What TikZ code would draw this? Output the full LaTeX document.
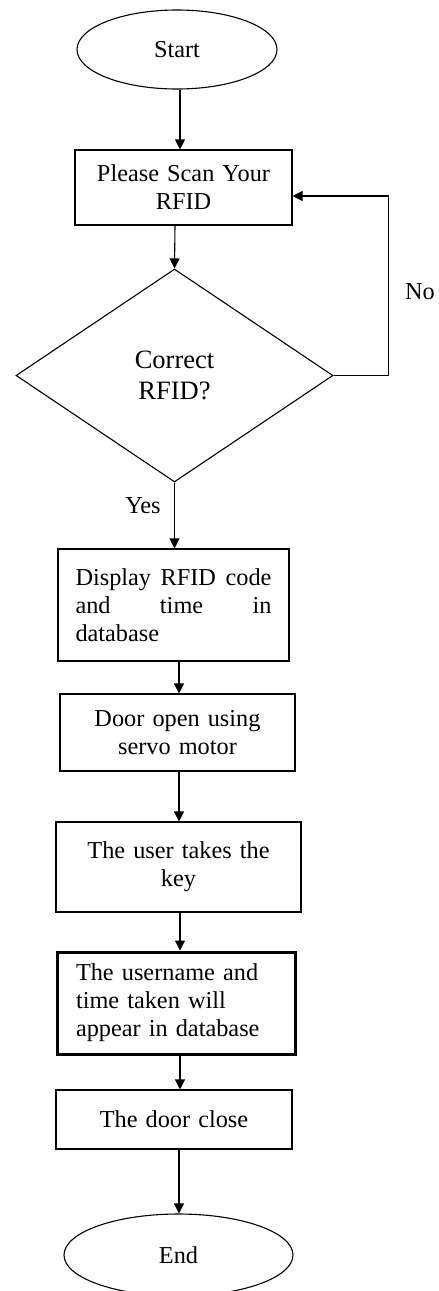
\documentclass[tikz,border=0pt]{standalone}
\usepackage{fontspec}
\setmainfont{Liberation Serif}
\usetikzlibrary{shapes.geometric,arrows.meta}
\begin{document}
\begin{tikzpicture}[x=1pt,y=-1pt,
  every node/.style={font=\fontsize{24.3}{28}\selectfont, inner sep=0pt},
  box/.style={draw, line width=1.1pt, align=center},
  arr/.style={line width=1.1pt, -{Triangle[length=10pt,width=10pt]}},
  term/.style={draw, ellipse, line width=1.1pt}]
\useasboundingbox (0,0) rectangle (439,1291);
\node[term, minimum width=200pt, minimum height=79pt] (start) at (177,49.5) {Start};
\node[box, minimum width=217pt, minimum height=75pt, text width=200pt] (b1) at (183.5,187.5) {Please Scan Your\\RFID};
\node[draw, diamond, line width=1.1pt, minimum width=317pt, minimum height=213pt, align=center, font=\fontsize{26.5}{31}\selectfont] (dia) at (174.5,375.5) {Correct\\RFID?};
\node[box, minimum width=231pt, minimum height=112pt, text width=196pt, align=left] (b2) at (173.5,605) {\makebox[196pt][l]{Display\hfill RFID\hfill code}\\\makebox[196pt][l]{and\hfill time\hfill in}\\database};
\node[box, minimum width=235pt, minimum height=77pt, text width=210pt] (b3) at (177.5,732.5) {Door open using\\servo motor};
\node[box, minimum width=245pt, minimum height=90pt, text width=220pt] (b4) at (178.5,867) {The user takes the\\key};
\node[box, line width=3pt, minimum width=238pt, minimum height=102pt, text width=200pt, align=left] (b5) at (176,1003) {The username and\\time taken will\\appear in database};
\node[box, minimum width=236pt, minimum height=59pt, text width=210pt] (b6) at (174,1119.5) {The door close};
\node[term, minimum width=229pt, minimum height=82pt] (end) at (178.5,1255) {End};
\node (no) at (420,292) {No};
\node (yes) at (143,506) {Yes};
\draw[arr] ([xshift=3pt]start.south) -- ([xshift=-3.5pt]b1.north);
\draw[arr] ([xshift=-8.5pt]b1.south) -- (dia.north);
\draw[arr] (dia.east) -- ++(55,0) |- ([yshift=-8.5pt]b1.east);
\draw[arr] (dia.south) -- (b2.north -| dia.south);
\draw[arr] ([xshift=5.5pt]b2.south) -- ([xshift=1.5pt]b3.north);
\draw[arr] ([xshift=1.5pt]b3.south) -- ([xshift=0.5pt]b4.north);
\draw[arr] ([xshift=1.5pt]b4.south) -- ([xshift=4pt]b5.north);
\draw[arr] ([xshift=4pt]b5.south) -- ([xshift=6pt]b6.north);
\draw[arr] ([xshift=5pt]b6.south) -- ([xshift=0.5pt]end.north);
\end{tikzpicture}
\end{document}
